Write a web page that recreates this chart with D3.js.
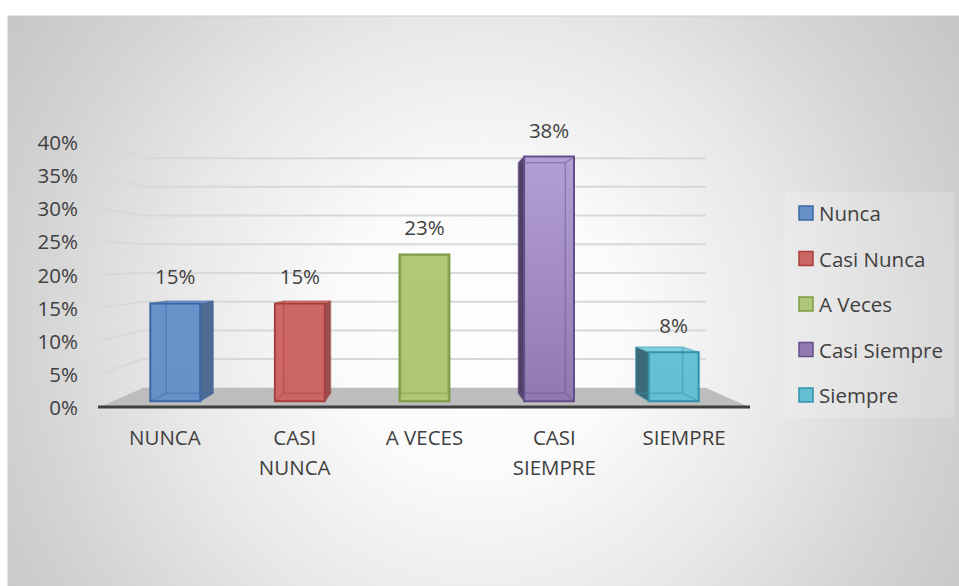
<!DOCTYPE html>
<html lang="es">
<head>
<meta charset="utf-8">
<title>Frecuencia</title>
<script src="https://d3js.org/d3.v7.min.js"></script>
<style>
  body { margin: 0; background: #fff; }
  text { font-family: "Open Sans", sans-serif; fill: #404040; font-size: 20.5px; }
</style>
</head>
<body>
<script>
// data
var categories = ["NUNCA", "CASI NUNCA", "A VECES", "CASI SIEMPRE", "SIEMPRE"];
var categoryLines = [["NUNCA"], ["CASI", "NUNCA"], ["A VECES"], ["CASI", "SIEMPRE"], ["SIEMPRE"]];
var seriesNames = ["Nunca", "Casi Nunca", "A Veces", "Casi Siempre", "Siempre"];
var values = [0.1538, 0.1538, 0.2308, 0.3846, 0.0769];
var valueLabels = ["15%", "15%", "23%", "38%", "8%"];
var yTicks = [0, 0.05, 0.10, 0.15, 0.20, 0.25, 0.30, 0.35, 0.40];

// colours per series: face top, face bottom, side, edge
var faceTop = ["#6892ca", "#cd6866", "#afc978", "#b49fd5", "#66c0d6"];
var faceBottom = ["#6690c8", "#cb6664", "#adc776", "#9079b0", "#63bdd3"];
var sideColor = ["#4f6b92", "#96504e", "#84985a", "#4f4066", "#3c6b78"];
var topColor = ["#80a4d6", "#d88280", "#bfd38e", "#c0aede", "#85cfe0"];
var edgeColor = ["#3d67a3", "#a8403e", "#7e9a44", "#654f8a", "#3192ab"];

var W = 959, H = 586;

var svg = d3.select("body").append("svg")
    .attr("width", W)
    .attr("height", H);

var defs = svg.append("defs");

// radial background
var bg = defs.append("radialGradient")
    .attr("id", "bg")
    .attr("gradientUnits", "userSpaceOnUse")
    .attr("cx", 480).attr("cy", 330).attr("r", 560);
[[0, "#ffffff"], [0.25, "#fbfbfb"], [0.55, "#e8e8e8"], [0.8, "#d4d4d4"], [1, "#c7c7c7"]]
    .forEach(function(s) {
        bg.append("stop").attr("offset", s[0]).attr("stop-color", s[1]);
    });

svg.append("rect")
    .attr("x", 8).attr("y", 16)
    .attr("width", W).attr("height", H)
    .attr("fill", "url(#bg)")
    .attr("stroke", "#cfcfcf")
    .attr("stroke-width", 1);

// simple perspective: front plane coords + depth d (0 front, 1 back)
var vx = 424, vy = 263, shrink = 0.1333;
function proj(X, Y, d) {
    var s = 1 - shrink * d;
    return [vx + (X - vx) * s, vy + (Y - vy) * s];
}

var x = d3.scaleBand().domain(categories).range([100, 749]);
var y = d3.scaleLinear().domain([0, 0.4]).range([407, 142]);

// floor
var floorPts = [proj(100, y(0), 0), proj(749, y(0), 0), proj(749, y(0), 1), proj(100, y(0), 1)];
svg.append("polygon")
    .attr("points", floorPts.map(function(p) { return p.join(","); }).join(" "))
    .attr("fill", "#bdbdbd");

// grid lines: side wall + back wall
var grid = svg.append("g")
    .attr("stroke", "#d8d8d8")
    .attr("stroke-width", 2)
    .attr("fill", "none");
yTicks.filter(function(t) { return t > 0; }).forEach(function(t) {
    var a = proj(100, y(t), 0), b = proj(100, y(t), 1), c = proj(749, y(t), 1);
    grid.append("polyline")
        .attr("points", [a, b, c].map(function(p) { return p.join(","); }).join(" "));
});

// axis line
svg.append("line")
    .attr("x1", 98).attr("x2", 750)
    .attr("y1", y(0)).attr("y2", y(0))
    .attr("stroke", "#3f3f3f")
    .attr("stroke-width", 3);

// y tick labels
svg.append("g").selectAll("text")
    .data(yTicks)
    .enter()
    .append("text")
    .attr("x", 78)
    .attr("y", function(d) { return y(d); })
    .attr("text-anchor", "end")
    .attr("dominant-baseline", "central")
    .text(function(d) { return Math.round(d * 100) + "%"; });

// category labels
categories.forEach(function(c, i) {
    var t = svg.append("text")
        .attr("x", x(c) + x.bandwidth() / 2)
        .attr("y", 437)
        .attr("text-anchor", "middle")
        .attr("dominant-baseline", "central");
    categoryLines[i].forEach(function(line, j) {
        t.append("tspan")
            .attr("x", x(c) + x.bandwidth() / 2)
            .attr("dy", j === 0 ? 0 : 30)
            .text(line);
    });
});

// bars as boxes
var dFront = 0.3, dBack = 0.72, halfW = 26;
function pts(arr) { return arr.map(function(p) { return p[0].toFixed(1) + "," + p[1].toFixed(1); }).join(" "); }

categories.forEach(function(c, i) {
    var cx = x(c) + x.bandwidth() / 2;
    var X0 = cx - halfW, X1 = cx + halfW, Y0 = y(0), Y1 = y(values[i]);
    var fBL = proj(X0, Y0, dFront), fBR = proj(X1, Y0, dFront),
        fTR = proj(X1, Y1, dFront), fTL = proj(X0, Y1, dFront),
        bBL = proj(X0, Y0, dBack), bBR = proj(X1, Y0, dBack),
        bTR = proj(X1, Y1, dBack), bTL = proj(X0, Y1, dBack);

    var grad = defs.append("linearGradient")
        .attr("id", "g" + i)
        .attr("x1", 0).attr("y1", 0).attr("x2", 0).attr("y2", 1);
    grad.append("stop").attr("offset", 0).attr("stop-color", faceTop[i]);
    grad.append("stop").attr("offset", 1).attr("stop-color", faceBottom[i]);

    var g = svg.append("g");

    // top face
    g.append("polygon")
        .attr("points", pts([fTL, fTR, bTR, bTL]))
        .attr("fill", topColor[i]);

    // visible side face
    if (cx < vx - 2) {
        g.append("polygon").attr("points", pts([fBR, fTR, bTR, bBR])).attr("fill", sideColor[i]);
    } else if (cx > vx + 2) {
        g.append("polygon").attr("points", pts([fBL, fTL, bTL, bBL])).attr("fill", sideColor[i]);
    }

    // front face
    g.append("polygon")
        .attr("points", pts([fBL, fBR, fTR, fTL]))
        .attr("fill", "url(#g" + i + ")");

    // hidden edges seen through the glass
    var back = [[bBL, bBR], [bBR, bTR], [bTR, bTL], [bTL, bBL], [fBL, bBL], [fBR, bBR], [fTL, bTL], [fTR, bTR]];
    back.forEach(function(e) {
        g.append("line")
            .attr("x1", e[0][0]).attr("y1", e[0][1])
            .attr("x2", e[1][0]).attr("y2", e[1][1])
            .attr("stroke", edgeColor[i])
            .attr("stroke-opacity", 0.45)
            .attr("stroke-width", 1.5);
    });
    g.append("polygon")
        .attr("points", pts([fBL, fBR, fTR, fTL]))
        .attr("fill", "none")
        .attr("stroke", edgeColor[i])
        .attr("stroke-width", 2);

    // value label
    var lp = proj(cx, Y1, dFront);
    svg.append("text")
        .attr("x", lp[0])
        .attr("y", lp[1] - 27)
        .attr("text-anchor", "middle")
        .attr("dominant-baseline", "central")
        .text(valueLabels[i]);
});

// legend
var legend = svg.append("g");
legend.append("rect")
    .attr("x", 785).attr("y", 192)
    .attr("width", 169).attr("height", 226)
    .attr("fill", "#ffffff")
    .attr("fill-opacity", 0.18);
seriesNames.forEach(function(name, i) {
    var cy = 213 + i * 45.5;
    legend.append("rect")
        .attr("x", 799).attr("y", cy - 7)
        .attr("width", 14).attr("height", 14)
        .attr("fill", faceBottom[i])
        .attr("stroke", edgeColor[i])
        .attr("stroke-width", 1.5);
    legend.append("text")
        .attr("x", 819)
        .attr("y", cy)
        .attr("dominant-baseline", "central")
        .text(name);
});
</script>
</body>
</html>
